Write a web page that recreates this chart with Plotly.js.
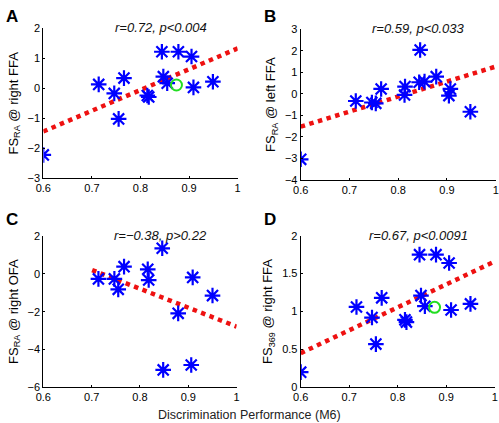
<!DOCTYPE html>
<html>
<head>
<meta charset="utf-8">
<script src="https://cdn.plot.ly/plotly-3.0.1.min.js"></script>
<style>html,body{margin:0;padding:0;background:#fff;}#chart{width:499px;height:423px;}</style>
</head>
<body>
<div id="chart"></div>
<script>
// Panel A: FS_RA @ right FFA
const xA = [0.600, 0.714, 0.746, 0.766, 0.755, 0.814, 0.817, 0.844, 0.878, 0.847, 0.855, 0.905, 0.909, 0.949];
const yA = [-2.22, 0.13, -0.17, 0.34, -1.02, -0.24, -0.29, 1.22, 1.22, 0.39, 0.17, 1.06, 0.03, 0.22];
const circleA = {x: [0.874], y: [0.11]};
const fitA = {x: [0.6, 1.0], y: [-1.44, 1.33]};

// Panel B: FS_RA @ left FFA
const xB = [0.600, 0.713, 0.746, 0.754, 0.765, 0.814, 0.813, 0.845, 0.843, 0.854, 0.878, 0.907, 0.904, 0.948];
const yB = [-3.04, -0.33, -0.40, -0.44, 0.23, 0.34, -0.05, 2.04, 0.54, 0.57, 0.80, 0.23, -0.08, -0.83];
const fitB = {x: [0.6, 1.0], y: [-1.52, 1.27]};

// Panel C: FS_RA @ right OFA
const xC = [0.714, 0.747, 0.755, 0.767, 0.816, 0.818, 0.846, 0.879, 0.909, 0.950, 0.848, 0.906];
const yC = [-0.27, -0.27, -0.82, 0.38, 0.24, -0.33, 1.35, -2.09, -0.19, -1.15, -5.08, -4.82];
const fitC = {x: [0.701, 1.0], y: [0.20, -2.79]};

// Panel D: FS_369 @ right FFA
const xD = [0.600, 0.715, 0.747, 0.767, 0.755, 0.815, 0.818, 0.845, 0.879, 0.848, 0.856, 0.906, 0.910, 0.950];
const yD = [0.20, 1.06, 0.92, 1.18, 0.57, 0.89, 0.86, 1.75, 1.75, 1.21, 1.07, 1.64, 1.02, 1.10];
const circleD = {x: [0.876], y: [1.055]};
const fitD = {x: [0.6, 1.0], y: [0.45, 1.66]};

const stats = ["r=0.72, p<0.004", "r=0.59, p<0.033", "r=\u22120.38, p>0.22", "r=0.67, p<0.0091"];
const yTitles = ["FS<sub>RA</sub> @ right FFA", "FS<sub>RA</sub> @ left FFA", "FS<sub>RA</sub> @ right OFA", "FS<sub>369</sub> @ right FFA"];
const letters = ["A", "B", "C", "D"];
const xTitle = "Discrimination Performance (M6)";

const FONT = "Liberation Sans, Arial, sans-serif";
const starMarker = {symbol: "asterisk-open", size: 13, color: "#0000ff", line: {color: "#0000ff", width: 2.2}};
const circleMarker = {symbol: "circle-open", size: 11, color: "#22dd22", line: {color: "#22dd22", width: 2}};
const fitLine = {color: "#ee1111", width: 4.5, dash: "dot"};

function fit(f, ax) { return {x: f.x, y: f.y, xaxis: "x" + ax, yaxis: "y" + ax, mode: "lines", line: fitLine, hoverinfo: "skip"}; }
function stars(x, y, ax) { return {x: x, y: y, xaxis: "x" + ax, yaxis: "y" + ax, mode: "markers", marker: starMarker}; }
function circ(c, ax) { return {x: c.x, y: c.y, xaxis: "x" + ax, yaxis: "y" + ax, mode: "markers", marker: circleMarker}; }

const data = [
  fit(fitA, ""), stars(xA, yA, ""), circ(circleA, ""),
  fit(fitB, "2"), stars(xB, yB, "2"),
  fit(fitC, "3"), stars(xC, yC, "3"),
  fit(fitD, "4"), stars(xD, yD, "4"), circ(circleD, "4")
];

function xax(dom, anchor) {
  return {domain: dom, anchor: anchor, range: [0.6, 1.0], tickvals: [0.6, 0.7, 0.8, 0.9, 1.0], ticktext: ["0.6", "0.7", "0.8", "0.9", "1"],
    showline: true, linecolor: "#000", linewidth: 1, mirror: false, showgrid: false, zeroline: false,
    ticks: "inside", ticklen: 2, tickcolor: "#000", tickfont: {size: 11, color: "#000", family: FONT}};
}
function yax(dom, anchor, range, dtick, title) {
  return {domain: dom, anchor: anchor, range: range, dtick: dtick, tick0: 0,
    showline: true, linecolor: "#000", linewidth: 1, mirror: false, showgrid: false, zeroline: false,
    ticks: "inside", ticklen: 2, tickcolor: "#000", tickfont: {size: 11, color: "#000", family: FONT},
    title: {text: title, font: {size: 13, color: "#000", family: FONT}, standoff: 6}};
}

const annotations = [];
const pos = [[0.0868, 0.4763, 0.933], [0.6026, 0.9934, 0.9307], [0.0868, 0.4743, 0.4421], [0.6026, 0.9914, 0.4428]];
const letterPos = [[0.008, 0.988], [0.526, 0.988], [0.008, 0.508], [0.526, 0.508]];
for (let i = 0; i < 4; i++) {
  annotations.push({xref: "paper", yref: "paper", x: (pos[i][0] + pos[i][1]) / 2 + 0.041, y: pos[i][2] + 0.001, yanchor: "middle", xanchor: "center",
    text: "<i>" + stats[i] + "</i>", showarrow: false, font: {size: 13, color: "#111", family: FONT, weight: "normal"}});
  annotations.push({xref: "paper", yref: "paper", x: letterPos[i][0], y: letterPos[i][1], xanchor: "left", yanchor: "top",
    text: "<b>" + letters[i] + "</b>", showarrow: false, font: {size: 17, color: "#000", family: FONT}});
}
annotations.push({xref: "paper", yref: "paper", x: 0.5, y: 0.019, xanchor: "center", yanchor: "middle",
  text: xTitle, showarrow: false, font: {size: 12.5, color: "#222", family: FONT}});

const layout = {
  width: 499, height: 423, margin: {l: 0, r: 0, t: 0, b: 0}, showlegend: false,
  paper_bgcolor: "#fff", plot_bgcolor: "#fff", font: {family: FONT},
  xaxis: xax([0.0868, 0.4763], "y"),
  yaxis: yax([0.5785, 0.933], "x", [-3, 2], 1, yTitles[0]),
  xaxis2: xax([0.6026, 0.9934], "y2"),
  yaxis2: yax([0.5745, 0.9307], "x2", [-4, 3], 1, yTitles[1]),
  xaxis3: xax([0.0868, 0.4743], "y3"),
  yaxis3: yax([0.0844, 0.4421], "x3", [-6, 2], 2, yTitles[2]),
  xaxis4: xax([0.6026, 0.9914], "y4"),
  yaxis4: yax([0.0844, 0.4428], "x4", [0, 2], 0.5, yTitles[3]),
  annotations: annotations
};

Plotly.newPlot("chart", data, layout, {displayModeBar: false, staticPlot: true});
</script>
</body>
</html>
